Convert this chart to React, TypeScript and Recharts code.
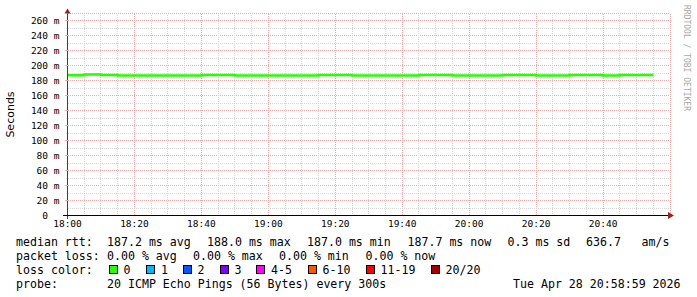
import { LineChart, Line, XAxis, YAxis, CartesianGrid, ReferenceLine, ReferenceDot } from 'recharts';

// minutes after 18:00, one value per 300s step (last point closes the final step)
const minutes = [0, 5, 10, 15, 20, 25, 30, 35, 40, 45, 50, 55, 60, 65, 70, 75, 80, 85, 90, 95, 100, 105, 110, 115, 120, 125, 130, 135, 140, 145, 150, 155, 160, 165, 170, 175];
const medianRtt = [
  187.3, 188.3, 187.7, 187.0, 187.0, 187.0, 187.0, 187.0, 187.7, 187.7,
  187.0, 187.0, 187.0, 187.0, 187.0, 187.7, 187.7, 187.0, 187.0, 187.0,
  187.0, 187.7, 187.7, 187.0, 187.0, 187.0, 187.7, 187.7, 187.0, 187.0,
  187.7, 187.7, 187.0, 187.7, 187.7, 187.7,
];

const xTicks = [0, 20, 40, 60, 80, 100, 120, 140, 160];
const xTickLabels = ['18:00', '18:20', '18:40', '19:00', '19:20', '19:40', '20:00', '20:20', '20:40'];
const xMinor = [5, 10, 15, 25, 30, 35, 45, 50, 55, 65, 70, 75, 85, 90, 95, 105, 110, 115, 125, 130, 135, 145, 150, 155, 165, 170, 175];
const yTicks = [0, 20, 40, 60, 80, 100, 120, 140, 160, 180, 200, 220, 240, 260];
const yMinor = [10, 30, 50, 70, 90, 110, 130, 150, 170, 190, 210, 230, 250];

const rttStats = ['187.2 ms avg', '188.0 ms max', '187.0 ms min', '187.7 ms now', '0.3 ms sd', '636.7', 'am/s'];
const lossStats = ['0.00 % avg', '0.00 % max', '0.00 % min', '0.00 % now'];
const lossLabels = ['0', '1', '2', '3', '4-5', '6-10', '11-19', '20/20'];
const lossColors = ['#26ff00', '#00b8ff', '#0059ff', '#7e00ff', '#ff00ff', '#ff5500', '#ff0000', '#a10000'];
const probeText = '20 ICMP Echo Pings (56 Bytes) every 300s';
const dateText = 'Tue Apr 28 20:58:59 2026';

// text layout (left edges in px)
const rttX = [107, 207, 307, 407.5, 507.5, 586, 641.5];
const lossX = [107, 193, 279, 365.5];
const boxX = [108.5, 146, 182.5, 219.5, 256, 307.5, 365.5, 430.5];
const rowTop = [235, 249, 262.5, 276.5];

const MONO = '"DejaVu Sans Mono", monospace';
const MINOR = '#d6d6d6';
const MAJOR = '#eeaaaa';

const chartData = minutes.map((t, i) => ({ t, rtt: medianRtt[i] }));

const RightArrow = (props: any) => {
  const { cx, cy } = props;
  return <path d={`M${cx - 2},${cy - 3.5} L${cx + 4},${cy} L${cx - 2},${cy + 3.5} Z`} fill="#a02020" />;
};

const UpArrow = (props: any) => {
  const { cx, cy } = props;
  return (
    <g>
      <line x1={cx} y1={cy} x2={cx} y2={cy - 1} stroke="#404040" />
      <path d={`M${cx - 3},${cy} L${cx},${cy - 5} L${cx + 3},${cy} Z`} fill="#a02020" />
    </g>
  );
};

const OriginStubs = (props: any) => {
  const { cx, cy } = props;
  return (
    <g shapeRendering="crispEdges">
      <line x1={cx - 5} y1={cy} x2={cx} y2={cy} stroke="#000" />
      <line x1={cx} y1={cy} x2={cx} y2={cy + 3} stroke="#404040" />
    </g>
  );
};

const rowStyle = (left: number, top: number): React.CSSProperties => ({
  position: 'absolute',
  left,
  top,
  fontFamily: MONO,
  fontSize: '11.6px',
  lineHeight: '14px',
  whiteSpace: 'pre',
  color: '#000',
});

const App = () => {
  return (
    <div style={{ position: 'fixed', left: 0, top: 0, width: 697, height: 297, background: '#fff', overflow: 'hidden' }}>
      <LineChart width={697} height={297} data={chartData} margin={{ top: 13.5, right: 27, left: 0.5, bottom: 61.5 }}>
        <CartesianGrid stroke={MAJOR} strokeDasharray="1 1" shapeRendering="crispEdges" />
        {xMinor.map((v) => (
          <ReferenceLine key={`xm${v}`} x={v} stroke={MINOR} strokeDasharray="1 1" shapeRendering="crispEdges" />
        ))}
        {yMinor.map((v) => (
          <ReferenceLine key={`ym${v}`} y={v} stroke={MINOR} strokeDasharray="1 1" shapeRendering="crispEdges" />
        ))}
        <XAxis
          dataKey="t"
          type="number"
          domain={[0, 180]}
          ticks={xTicks}
          interval={0}
          tickFormatter={(v: number) => xTickLabels[xTicks.indexOf(v)] ?? ''}
          tickLine={false}
          tickSize={3}
          tickMargin={2}
          height={20}
          stroke="#000"
          tick={{ fill: '#000', fontSize: 9.5, fontFamily: MONO }}
          axisLine={{ stroke: '#000', shapeRendering: 'crispEdges' }}
        />
        <YAxis
          type="number"
          domain={[0, 270]}
          ticks={yTicks}
          interval={0}
          tickFormatter={(v: number) => (v === 0 ? '0\u00a0\u00a0' : `${v} m`)}
          tickSize={3}
          tickMargin={5}
          width={67}
          tickLine={{ stroke: MAJOR, shapeRendering: 'crispEdges' }}
          tick={{ fill: '#000', fontSize: 9.5, fontFamily: MONO }}
          axisLine={{ stroke: '#404040', shapeRendering: 'crispEdges' }}
          label={{
            value: 'Seconds',
            angle: -90,
            position: 'insideLeft',
            offset: 10,
            style: { textAnchor: 'middle', fill: '#000', fontSize: 11, fontFamily: '"DejaVu Sans", sans-serif' },
          }}
        />
        <Line
          type="stepAfter"
          dataKey="rtt"
          stroke="#26ff00"
          strokeWidth={2.5}
          dot={false}
          isAnimationActive={false}
        />
        <ReferenceDot x={0} y={0} ifOverflow="visible" shape={OriginStubs} />
        <ReferenceDot x={180} y={0} ifOverflow="visible" shape={RightArrow} />
        <ReferenceDot x={0} y={270} ifOverflow="visible" shape={UpArrow} />
      </LineChart>

      <div
        style={{
          position: 'absolute',
          left: 682,
          top: 5,
          writingMode: 'vertical-rl',
          fontFamily: MONO,
          fontSize: '8px',
          color: '#a8a8a8',
          whiteSpace: 'pre',
        }}
      >
        RRDTOOL / TOBI OETIKER
      </div>

      <div style={rowStyle(16, rowTop[0])}>median rtt:</div>
      {rttStats.map((s, i) => (
        <div key={`r${i}`} style={rowStyle(rttX[i], rowTop[0])}>{s}</div>
      ))}

      <div style={rowStyle(16, rowTop[1])}>packet loss:</div>
      {lossStats.map((s, i) => (
        <div key={`l${i}`} style={rowStyle(lossX[i], rowTop[1])}>{s}</div>
      ))}

      <div style={rowStyle(16, rowTop[2])}>loss color:</div>
      {lossLabels.map((s, i) => (
        <div key={`c${i}`}>
          <div
            style={{
              position: 'absolute',
              left: boxX[i],
              top: 265,
              width: 9,
              height: 9,
              boxSizing: 'border-box',
              border: '1px solid #000',
              background: lossColors[i],
            }}
          />
          <div style={rowStyle(boxX[i] + 15, rowTop[2])}>{s}</div>
        </div>
      ))}

      <div style={rowStyle(16, rowTop[3])}>probe:</div>
      <div style={rowStyle(107, rowTop[3])}>{probeText}</div>
      <div style={rowStyle(513, rowTop[3])}>{dateText}</div>
    </div>
  );
};

export default App;
